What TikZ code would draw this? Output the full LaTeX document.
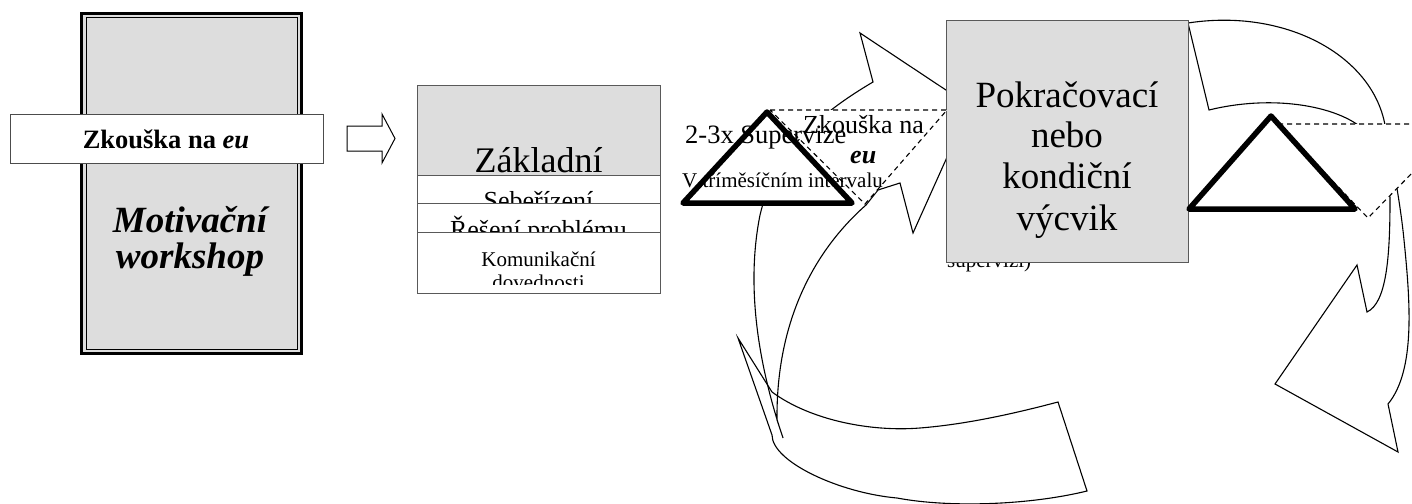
\documentclass[tikz,border=0pt]{standalone}
\usepackage{fontspec}
\setmainfont{Liberation Serif}
\definecolor{boxgray}{HTML}{DDDDDD}
\begin{document}
\begin{tikzpicture}[x=1pt,y=-1pt,
  thinline/.style={draw=black, line width=1pt},
  frame/.style={draw=black!65, line width=1pt},
  txt/.style={inner sep=0pt, anchor=base},
  txtw/.style={inner sep=0pt, anchor=base west},
  bigtri/.style={draw=black, line width=5.5pt, line join=round, fill=white},
  dashtri/.style={draw=black, line width=1.1pt, dash pattern=on 5pt off 4pt, fill=white},
  cyc/.style={draw=black, line width=1.1pt, line join=miter, miter limit=20},
  plainbox/.style={inner sep=0pt, outer sep=0pt, anchor=north west},
]
\useasboundingbox (0,0) rectangle (1412,503);

% ---------- Motivacni workshop ----------
\node[plainbox, draw=black, line width=3pt, fill=boxgray, minimum width=220pt, minimum height=340pt] (motivout) at (81.5,13.5) {};
\node[plainbox, draw=black, line width=1pt, minimum width=211pt, minimum height=331pt] (motivin) at (86,18) {};
\node[txt, font=\bfseries\itshape\fontsize{37}{37}\selectfont] (mot1) at (190,232) {Motivační};
\node[txt, font=\bfseries\itshape\fontsize{37}{37}\selectfont] (mot2) at (190,268) {workshop};

\node[plainbox, draw=black!70, line width=1pt, fill=white, minimum width=313pt, minimum height=49pt] (zkbox) at (10,114) {};
\node[txt, font=\bfseries\fontsize{26.5}{30}\selectfont] (zktext) at (166,148) {Zkouška na \textit{eu}};

% ---------- hollow arrow ----------
\draw[thinline, fill=white] (347,126) -- (382,126) -- (382,114) -- (395,138.5) -- (382,163) -- (382,151) -- (347,151) -- cycle;

% ---------- Zakladni ----------
\node[plainbox, fill=boxgray, minimum width=243pt, minimum height=90pt] (zaktop) at (417,85) {};
\node[plainbox, fill=white, minimum width=243pt, minimum height=28pt] (row1) at (417,175) {};
\node[plainbox, fill=white, minimum width=243pt, minimum height=29pt] (row2) at (417,203) {};
\node[plainbox, fill=white, minimum width=243pt, minimum height=61pt] (row3) at (417,232) {};
\node[txt, font=\fontsize{36}{36}\selectfont] (zak) at (538.5,172) {Základní};
\begin{scope}
  \clip (417,175) rectangle (660,203);
  \node[txt, font=\fontsize{26}{26}\selectfont] (seb) at (538.5,209) {Sebeřízení};
\end{scope}
\begin{scope}
  \clip (417,203) rectangle (660,232);
  \node[txt, font=\fontsize{26}{26}\selectfont] (res) at (538.5,238) {Řešení problému};
\end{scope}
\begin{scope}
  \clip (417,232) rectangle (660,284);
  \node[txt, font=\fontsize{21}{21}\selectfont] (kom) at (538.5,266) {Komunikační};
  \node[txt, font=\fontsize{21}{21}\selectfont] (dov) at (538.5,289) {dovednosti};
\end{scope}
\draw[frame] (417,175) -- (660,175);
\draw[frame] (417,203) -- (660,203);
\draw[frame] (417,232) -- (660,232);
\draw[frame] (417,85) rectangle (660,293);

% ---------- cycle arrows ----------
% arrow 1 (left, upward)
\draw[cyc] (783,438) .. controls (760,370) and (745,290) .. (760,215)
  .. controls (772,165) and (800,125) .. (873,82)
  -- (860,33) -- (970,106) -- (913,233) -- (900,183) -- (878,190) -- (866,205)
  .. controls (815,250) and (776,320) .. (777,420) -- cycle;
% arrow 2 (top right, downward)
\draw[cyc] (1209,110) .. controls (1270,95) and (1330,105) .. (1358,125)
  .. controls (1380,145) and (1390,175) .. (1390,200)
  .. controls (1390,260) and (1386,303) .. (1367,312)
  -- (1357,265) -- (1275,384) -- (1398,452) -- (1388,404)
  .. controls (1416,370) and (1410,300) .. (1404,240)
  .. controls (1400,200) and (1392,160) .. (1385,125)
  .. controls (1372,55) and (1285,8) .. (1188,23) -- cycle;
% arrow 3 (bottom, leftward)
\draw[cyc] (738,338) -- (772,392)
  .. controls (810,420) and (870,432) .. (920,428)
  .. controls (970,424) and (1020,412) .. (1058,402)
  -- (1087,491)
  .. controls (1030,505) and (950,508) .. (897,498)
  .. controls (840,493) and (772,462) .. (772,435) -- cycle;

% ---------- Pokracovaci ----------
\node[txtw, font=\fontsize{21}{21}\selectfont] (sup) at (947,267) {supervizí)};
\node[plainbox, draw=black!65, line width=1pt, fill=boxgray, minimum width=242pt, minimum height=241pt] (pokr) at (946,21) {};
\node[txt, font=\fontsize{37}{37}\selectfont] (p1) at (1067,107) {Pokračovací};
\node[txt, font=\fontsize{37}{37}\selectfont] (p2) at (1067,147) {nebo};
\node[txt, font=\fontsize{37}{37}\selectfont] (p3) at (1067,188) {kondiční};
\node[txt, font=\fontsize{37}{37}\selectfont] (p4) at (1067,230) {výcvik};

% ---------- triangles ----------
\draw[dashtri] (770,110) -- (947,110) -- (865,204) -- cycle;
\draw[bigtri] (767,112) -- (852,203) -- (683,203) -- cycle;
\draw[dashtri] (1278,124) -- (1460,124) -- (1368,218) -- cycle;
\draw[bigtri] (1271,116) -- (1355,209) -- (1189,209) -- cycle;

% ---------- texts on triangle 1 ----------
\node[txtw, font=\fontsize{26.5}{26.5}\selectfont] (sv) at (685,143) {2-3x Supervize};
\node[txtw, font=\fontsize{26}{26}\selectfont] (zk2) at (803,133) {Zkouška na};
\node[txtw, font=\bfseries\itshape\fontsize{26}{26}\selectfont] (eu2) at (850,163) {eu};
\node[txtw, font=\fontsize{21}{21}\selectfont] (vt) at (682,187) {V tříměsíčním intervalu};
\end{tikzpicture}
\end{document}
